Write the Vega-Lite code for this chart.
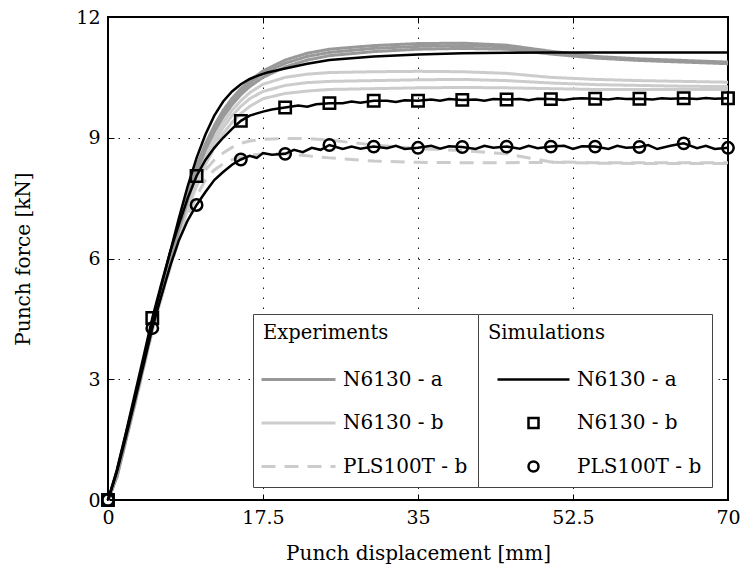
{
  "$schema": "https://vega.github.io/schema/vega-lite/v6.json",
  "width": 620,
  "height": 483,
  "autosize": {"type": "none"},
  "padding": {"left": 108, "top": 17, "right": 14, "bottom": 72},
  "config": {
    "font": "DejaVu Serif",
    "view": {"stroke": "black", "strokeWidth": 2},
    "axis": {
      "labelFont": "DejaVu Serif", "labelFontSize": 19, "labelColor": "black", "labelFlush": false,
      "titleFont": "DejaVu Serif", "titleFontSize": 20, "titleFontWeight": "normal", "titleColor": "black",
      "domain": false, "tickColor": "black", "tickSize": -6, "tickWidth": 1,
      "gridColor": "black", "gridDash": [1.5, 8.5], "gridOpacity": 0.9, "gridWidth": 1
    },
    "legend": {
      "labelFont": "DejaVu Serif", "labelFontSize": 20, "labelColor": "black",
      "titleFont": "DejaVu Serif", "titleFontSize": 19.5, "titleFontWeight": "normal", "titleColor": "black",
      "padding": 10, "fillColor": "white", "strokeColor": "#444444", "rowPadding": 23.5, "titlePadding": 26,
      "symbolSize": 100, "orient": "none"
    }
  },
  "datasets": {
    "exp": [
      {"exp":"PLS100T - b","run":"d1","x":0,"y":0},{"exp":"PLS100T - b","run":"d1","x":1,"y":0.58},{"exp":"PLS100T - b","run":"d1","x":2,"y":1.48},{"exp":"PLS100T - b","run":"d1","x":3,"y":2.38},{"exp":"PLS100T - b","run":"d1","x":4,"y":3.3},{"exp":"PLS100T - b","run":"d1","x":5,"y":4.25},{"exp":"PLS100T - b","run":"d1","x":6,"y":5.05},{"exp":"PLS100T - b","run":"d1","x":7,"y":5.85},{"exp":"PLS100T - b","run":"d1","x":8,"y":6.6},{"exp":"PLS100T - b","run":"d1","x":9,"y":7.25},{"exp":"PLS100T - b","run":"d1","x":10,"y":7.8},{"exp":"PLS100T - b","run":"d1","x":11,"y":8.2},{"exp":"PLS100T - b","run":"d1","x":12,"y":8.45},{"exp":"PLS100T - b","run":"d1","x":13,"y":8.62},{"exp":"PLS100T - b","run":"d1","x":14,"y":8.76},{"exp":"PLS100T - b","run":"d1","x":15,"y":8.86},{"exp":"PLS100T - b","run":"d1","x":16,"y":8.92},{"exp":"PLS100T - b","run":"d1","x":17.5,"y":8.96},{"exp":"PLS100T - b","run":"d1","x":20,"y":8.98},{"exp":"PLS100T - b","run":"d1","x":22.5,"y":8.98},{"exp":"PLS100T - b","run":"d1","x":25,"y":8.94},{"exp":"PLS100T - b","run":"d1","x":30,"y":8.82},{"exp":"PLS100T - b","run":"d1","x":35,"y":8.73},{"exp":"PLS100T - b","run":"d1","x":40,"y":8.68},{"exp":"PLS100T - b","run":"d1","x":45,"y":8.6},{"exp":"PLS100T - b","run":"d1","x":50,"y":8.4},{"exp":"PLS100T - b","run":"d1","x":55,"y":8.38},{"exp":"PLS100T - b","run":"d1","x":60,"y":8.38},{"exp":"PLS100T - b","run":"d1","x":65,"y":8.38},{"exp":"PLS100T - b","run":"d1","x":70,"y":8.38},
      {"exp":"PLS100T - b","run":"d2","x":0,"y":0},{"exp":"PLS100T - b","run":"d2","x":1,"y":0.55},{"exp":"PLS100T - b","run":"d2","x":2,"y":1.45},{"exp":"PLS100T - b","run":"d2","x":3,"y":2.33},{"exp":"PLS100T - b","run":"d2","x":4,"y":3.25},{"exp":"PLS100T - b","run":"d2","x":5,"y":4.2},{"exp":"PLS100T - b","run":"d2","x":6,"y":5.0},{"exp":"PLS100T - b","run":"d2","x":7,"y":5.75},{"exp":"PLS100T - b","run":"d2","x":8,"y":6.45},{"exp":"PLS100T - b","run":"d2","x":9,"y":7.05},{"exp":"PLS100T - b","run":"d2","x":10,"y":7.55},{"exp":"PLS100T - b","run":"d2","x":11,"y":7.95},{"exp":"PLS100T - b","run":"d2","x":12,"y":8.2},{"exp":"PLS100T - b","run":"d2","x":13,"y":8.35},{"exp":"PLS100T - b","run":"d2","x":14,"y":8.45},{"exp":"PLS100T - b","run":"d2","x":15,"y":8.52},{"exp":"PLS100T - b","run":"d2","x":16,"y":8.56},{"exp":"PLS100T - b","run":"d2","x":17.5,"y":8.6},{"exp":"PLS100T - b","run":"d2","x":20,"y":8.6},{"exp":"PLS100T - b","run":"d2","x":22.5,"y":8.55},{"exp":"PLS100T - b","run":"d2","x":25,"y":8.5},{"exp":"PLS100T - b","run":"d2","x":30,"y":8.42},{"exp":"PLS100T - b","run":"d2","x":35,"y":8.39},{"exp":"PLS100T - b","run":"d2","x":40,"y":8.38},{"exp":"PLS100T - b","run":"d2","x":45,"y":8.38},{"exp":"PLS100T - b","run":"d2","x":50,"y":8.39},{"exp":"PLS100T - b","run":"d2","x":55,"y":8.37},{"exp":"PLS100T - b","run":"d2","x":60,"y":8.36},{"exp":"PLS100T - b","run":"d2","x":65,"y":8.36},{"exp":"PLS100T - b","run":"d2","x":70,"y":8.36},
      {"exp":"N6130 - b","run":"b1","x":0,"y":0},{"exp":"N6130 - b","run":"b1","x":1,"y":0.6},{"exp":"N6130 - b","run":"b1","x":2,"y":1.5},{"exp":"N6130 - b","run":"b1","x":3,"y":2.4},{"exp":"N6130 - b","run":"b1","x":4,"y":3.33},{"exp":"N6130 - b","run":"b1","x":5,"y":4.3},{"exp":"N6130 - b","run":"b1","x":6,"y":5.1},{"exp":"N6130 - b","run":"b1","x":7,"y":5.9},{"exp":"N6130 - b","run":"b1","x":8,"y":6.65},{"exp":"N6130 - b","run":"b1","x":9,"y":7.35},{"exp":"N6130 - b","run":"b1","x":10,"y":8.0},{"exp":"N6130 - b","run":"b1","x":11,"y":8.55},{"exp":"N6130 - b","run":"b1","x":12,"y":9.0},{"exp":"N6130 - b","run":"b1","x":13,"y":9.38},{"exp":"N6130 - b","run":"b1","x":14,"y":9.68},{"exp":"N6130 - b","run":"b1","x":15,"y":9.92},{"exp":"N6130 - b","run":"b1","x":16,"y":10.12},{"exp":"N6130 - b","run":"b1","x":17.5,"y":10.33},{"exp":"N6130 - b","run":"b1","x":20,"y":10.5},{"exp":"N6130 - b","run":"b1","x":22.5,"y":10.58},{"exp":"N6130 - b","run":"b1","x":25,"y":10.62},{"exp":"N6130 - b","run":"b1","x":30,"y":10.64},{"exp":"N6130 - b","run":"b1","x":35,"y":10.65},{"exp":"N6130 - b","run":"b1","x":40,"y":10.64},{"exp":"N6130 - b","run":"b1","x":45,"y":10.6},{"exp":"N6130 - b","run":"b1","x":50,"y":10.5},{"exp":"N6130 - b","run":"b1","x":55,"y":10.45},{"exp":"N6130 - b","run":"b1","x":60,"y":10.42},{"exp":"N6130 - b","run":"b1","x":65,"y":10.4},{"exp":"N6130 - b","run":"b1","x":70,"y":10.38},
      {"exp":"N6130 - b","run":"b2","x":0,"y":0},{"exp":"N6130 - b","run":"b2","x":1,"y":0.58},{"exp":"N6130 - b","run":"b2","x":2,"y":1.48},{"exp":"N6130 - b","run":"b2","x":3,"y":2.37},{"exp":"N6130 - b","run":"b2","x":4,"y":3.3},{"exp":"N6130 - b","run":"b2","x":5,"y":4.25},{"exp":"N6130 - b","run":"b2","x":6,"y":5.05},{"exp":"N6130 - b","run":"b2","x":7,"y":5.85},{"exp":"N6130 - b","run":"b2","x":8,"y":6.6},{"exp":"N6130 - b","run":"b2","x":9,"y":7.3},{"exp":"N6130 - b","run":"b2","x":10,"y":7.92},{"exp":"N6130 - b","run":"b2","x":11,"y":8.45},{"exp":"N6130 - b","run":"b2","x":12,"y":8.88},{"exp":"N6130 - b","run":"b2","x":13,"y":9.25},{"exp":"N6130 - b","run":"b2","x":14,"y":9.55},{"exp":"N6130 - b","run":"b2","x":15,"y":9.78},{"exp":"N6130 - b","run":"b2","x":16,"y":9.97},{"exp":"N6130 - b","run":"b2","x":17.5,"y":10.15},{"exp":"N6130 - b","run":"b2","x":20,"y":10.3},{"exp":"N6130 - b","run":"b2","x":22.5,"y":10.37},{"exp":"N6130 - b","run":"b2","x":25,"y":10.4},{"exp":"N6130 - b","run":"b2","x":30,"y":10.42},{"exp":"N6130 - b","run":"b2","x":35,"y":10.44},{"exp":"N6130 - b","run":"b2","x":40,"y":10.45},{"exp":"N6130 - b","run":"b2","x":45,"y":10.42},{"exp":"N6130 - b","run":"b2","x":50,"y":10.36},{"exp":"N6130 - b","run":"b2","x":55,"y":10.32},{"exp":"N6130 - b","run":"b2","x":60,"y":10.3},{"exp":"N6130 - b","run":"b2","x":65,"y":10.28},{"exp":"N6130 - b","run":"b2","x":70,"y":10.27},
      {"exp":"N6130 - b","run":"b3","x":0,"y":0},{"exp":"N6130 - b","run":"b3","x":1,"y":0.56},{"exp":"N6130 - b","run":"b3","x":2,"y":1.45},{"exp":"N6130 - b","run":"b3","x":3,"y":2.35},{"exp":"N6130 - b","run":"b3","x":4,"y":3.27},{"exp":"N6130 - b","run":"b3","x":5,"y":4.2},{"exp":"N6130 - b","run":"b3","x":6,"y":5.0},{"exp":"N6130 - b","run":"b3","x":7,"y":5.8},{"exp":"N6130 - b","run":"b3","x":8,"y":6.55},{"exp":"N6130 - b","run":"b3","x":9,"y":7.22},{"exp":"N6130 - b","run":"b3","x":10,"y":7.82},{"exp":"N6130 - b","run":"b3","x":11,"y":8.33},{"exp":"N6130 - b","run":"b3","x":12,"y":8.75},{"exp":"N6130 - b","run":"b3","x":13,"y":9.1},{"exp":"N6130 - b","run":"b3","x":14,"y":9.38},{"exp":"N6130 - b","run":"b3","x":15,"y":9.6},{"exp":"N6130 - b","run":"b3","x":16,"y":9.78},{"exp":"N6130 - b","run":"b3","x":17.5,"y":9.97},{"exp":"N6130 - b","run":"b3","x":20,"y":10.1},{"exp":"N6130 - b","run":"b3","x":22.5,"y":10.16},{"exp":"N6130 - b","run":"b3","x":25,"y":10.2},{"exp":"N6130 - b","run":"b3","x":30,"y":10.22},{"exp":"N6130 - b","run":"b3","x":35,"y":10.24},{"exp":"N6130 - b","run":"b3","x":40,"y":10.25},{"exp":"N6130 - b","run":"b3","x":45,"y":10.24},{"exp":"N6130 - b","run":"b3","x":50,"y":10.22},{"exp":"N6130 - b","run":"b3","x":55,"y":10.2},{"exp":"N6130 - b","run":"b3","x":60,"y":10.2},{"exp":"N6130 - b","run":"b3","x":65,"y":10.2},{"exp":"N6130 - b","run":"b3","x":70,"y":10.2},
      {"exp":"N6130 - a","run":"a1","x":0,"y":0},{"exp":"N6130 - a","run":"a1","x":1,"y":0.62},{"exp":"N6130 - a","run":"a1","x":2,"y":1.52},{"exp":"N6130 - a","run":"a1","x":3,"y":2.42},{"exp":"N6130 - a","run":"a1","x":4,"y":3.38},{"exp":"N6130 - a","run":"a1","x":5,"y":4.35},{"exp":"N6130 - a","run":"a1","x":6,"y":5.2},{"exp":"N6130 - a","run":"a1","x":7,"y":6.05},{"exp":"N6130 - a","run":"a1","x":8,"y":6.85},{"exp":"N6130 - a","run":"a1","x":9,"y":7.6},{"exp":"N6130 - a","run":"a1","x":10,"y":8.3},{"exp":"N6130 - a","run":"a1","x":11,"y":8.85},{"exp":"N6130 - a","run":"a1","x":12,"y":9.3},{"exp":"N6130 - a","run":"a1","x":13,"y":9.68},{"exp":"N6130 - a","run":"a1","x":14,"y":9.98},{"exp":"N6130 - a","run":"a1","x":15,"y":10.22},{"exp":"N6130 - a","run":"a1","x":16,"y":10.42},{"exp":"N6130 - a","run":"a1","x":17.5,"y":10.66},{"exp":"N6130 - a","run":"a1","x":20,"y":10.93},{"exp":"N6130 - a","run":"a1","x":22.5,"y":11.1},{"exp":"N6130 - a","run":"a1","x":25,"y":11.2},{"exp":"N6130 - a","run":"a1","x":30,"y":11.29},{"exp":"N6130 - a","run":"a1","x":35,"y":11.34},{"exp":"N6130 - a","run":"a1","x":40,"y":11.35},{"exp":"N6130 - a","run":"a1","x":45,"y":11.3},{"exp":"N6130 - a","run":"a1","x":50,"y":11.15},{"exp":"N6130 - a","run":"a1","x":55,"y":11.02},{"exp":"N6130 - a","run":"a1","x":60,"y":10.96},{"exp":"N6130 - a","run":"a1","x":65,"y":10.92},{"exp":"N6130 - a","run":"a1","x":70,"y":10.88},
      {"exp":"N6130 - a","run":"a2","x":0,"y":0},{"exp":"N6130 - a","run":"a2","x":1,"y":0.6},{"exp":"N6130 - a","run":"a2","x":2,"y":1.5},{"exp":"N6130 - a","run":"a2","x":3,"y":2.4},{"exp":"N6130 - a","run":"a2","x":4,"y":3.35},{"exp":"N6130 - a","run":"a2","x":5,"y":4.3},{"exp":"N6130 - a","run":"a2","x":6,"y":5.15},{"exp":"N6130 - a","run":"a2","x":7,"y":6.0},{"exp":"N6130 - a","run":"a2","x":8,"y":6.8},{"exp":"N6130 - a","run":"a2","x":9,"y":7.55},{"exp":"N6130 - a","run":"a2","x":10,"y":8.25},{"exp":"N6130 - a","run":"a2","x":11,"y":8.8},{"exp":"N6130 - a","run":"a2","x":12,"y":9.25},{"exp":"N6130 - a","run":"a2","x":13,"y":9.62},{"exp":"N6130 - a","run":"a2","x":14,"y":9.92},{"exp":"N6130 - a","run":"a2","x":15,"y":10.15},{"exp":"N6130 - a","run":"a2","x":16,"y":10.35},{"exp":"N6130 - a","run":"a2","x":17.5,"y":10.6},{"exp":"N6130 - a","run":"a2","x":20,"y":10.85},{"exp":"N6130 - a","run":"a2","x":22.5,"y":11.02},{"exp":"N6130 - a","run":"a2","x":25,"y":11.12},{"exp":"N6130 - a","run":"a2","x":30,"y":11.22},{"exp":"N6130 - a","run":"a2","x":35,"y":11.27},{"exp":"N6130 - a","run":"a2","x":40,"y":11.29},{"exp":"N6130 - a","run":"a2","x":45,"y":11.26},{"exp":"N6130 - a","run":"a2","x":50,"y":11.12},{"exp":"N6130 - a","run":"a2","x":55,"y":11.0},{"exp":"N6130 - a","run":"a2","x":60,"y":10.94},{"exp":"N6130 - a","run":"a2","x":65,"y":10.9},{"exp":"N6130 - a","run":"a2","x":70,"y":10.86},
      {"exp":"N6130 - a","run":"a3","x":0,"y":0},{"exp":"N6130 - a","run":"a3","x":1,"y":0.58},{"exp":"N6130 - a","run":"a3","x":2,"y":1.48},{"exp":"N6130 - a","run":"a3","x":3,"y":2.38},{"exp":"N6130 - a","run":"a3","x":4,"y":3.32},{"exp":"N6130 - a","run":"a3","x":5,"y":4.3},{"exp":"N6130 - a","run":"a3","x":6,"y":5.1},{"exp":"N6130 - a","run":"a3","x":7,"y":5.95},{"exp":"N6130 - a","run":"a3","x":8,"y":6.7},{"exp":"N6130 - a","run":"a3","x":9,"y":7.45},{"exp":"N6130 - a","run":"a3","x":10,"y":8.15},{"exp":"N6130 - a","run":"a3","x":11,"y":8.7},{"exp":"N6130 - a","run":"a3","x":12,"y":9.15},{"exp":"N6130 - a","run":"a3","x":13,"y":9.52},{"exp":"N6130 - a","run":"a3","x":14,"y":9.82},{"exp":"N6130 - a","run":"a3","x":15,"y":10.07},{"exp":"N6130 - a","run":"a3","x":16,"y":10.27},{"exp":"N6130 - a","run":"a3","x":17.5,"y":10.5},{"exp":"N6130 - a","run":"a3","x":20,"y":10.76},{"exp":"N6130 - a","run":"a3","x":22.5,"y":10.93},{"exp":"N6130 - a","run":"a3","x":25,"y":11.04},{"exp":"N6130 - a","run":"a3","x":30,"y":11.14},{"exp":"N6130 - a","run":"a3","x":35,"y":11.2},{"exp":"N6130 - a","run":"a3","x":40,"y":11.22},{"exp":"N6130 - a","run":"a3","x":45,"y":11.2},{"exp":"N6130 - a","run":"a3","x":50,"y":11.08},{"exp":"N6130 - a","run":"a3","x":55,"y":10.98},{"exp":"N6130 - a","run":"a3","x":60,"y":10.92},{"exp":"N6130 - a","run":"a3","x":65,"y":10.88},{"exp":"N6130 - a","run":"a3","x":70,"y":10.84}
    ],
    "sim": [
      {"sim":"S N6130 - a","x":0,"y":0},{"sim":"S N6130 - a","x":1,"y":0.72},{"sim":"S N6130 - a","x":2,"y":1.62},{"sim":"S N6130 - a","x":3,"y":2.52},{"sim":"S N6130 - a","x":4,"y":3.45},{"sim":"S N6130 - a","x":5,"y":4.4},{"sim":"S N6130 - a","x":6,"y":5.3},{"sim":"S N6130 - a","x":7,"y":6.15},{"sim":"S N6130 - a","x":8,"y":7.0},{"sim":"S N6130 - a","x":9,"y":7.8},{"sim":"S N6130 - a","x":10,"y":8.5},{"sim":"S N6130 - a","x":11,"y":9.08},{"sim":"S N6130 - a","x":12,"y":9.55},{"sim":"S N6130 - a","x":13,"y":9.9},{"sim":"S N6130 - a","x":14,"y":10.15},{"sim":"S N6130 - a","x":15,"y":10.33},{"sim":"S N6130 - a","x":16,"y":10.46},{"sim":"S N6130 - a","x":17,"y":10.55},{"sim":"S N6130 - a","x":18,"y":10.62},{"sim":"S N6130 - a","x":20,"y":10.72},{"sim":"S N6130 - a","x":22.5,"y":10.84},{"sim":"S N6130 - a","x":25,"y":10.93},{"sim":"S N6130 - a","x":30,"y":11.02},{"sim":"S N6130 - a","x":35,"y":11.07},{"sim":"S N6130 - a","x":40,"y":11.1},{"sim":"S N6130 - a","x":45,"y":11.11},{"sim":"S N6130 - a","x":50,"y":11.12},{"sim":"S N6130 - a","x":60,"y":11.12},{"sim":"S N6130 - a","x":70,"y":11.12},
      {"sim":"S N6130 - b","x":0,"y":0},{"sim":"S N6130 - b","x":1,"y":0.75},{"sim":"S N6130 - b","x":2,"y":1.65},{"sim":"S N6130 - b","x":3,"y":2.6},{"sim":"S N6130 - b","x":4,"y":3.55},{"sim":"S N6130 - b","x":5,"y":4.52},{"sim":"S N6130 - b","x":6,"y":5.35},{"sim":"S N6130 - b","x":7,"y":6.15},{"sim":"S N6130 - b","x":8,"y":6.85},{"sim":"S N6130 - b","x":9,"y":7.5},{"sim":"S N6130 - b","x":10,"y":8.05},{"sim":"S N6130 - b","x":11,"y":8.45},{"sim":"S N6130 - b","x":12,"y":8.75},{"sim":"S N6130 - b","x":13,"y":9.0},{"sim":"S N6130 - b","x":14,"y":9.22},{"sim":"S N6130 - b","x":15,"y":9.42},{"sim":"S N6130 - b","x":16,"y":9.55},{"sim":"S N6130 - b","x":17.5,"y":9.65},{"sim":"S N6130 - b","x":18.5,"y":9.7},{"sim":"S N6130 - b","x":20,"y":9.75},{"sim":"S N6130 - b","x":21.5,"y":9.8},{"sim":"S N6130 - b","x":22.5,"y":9.77},{"sim":"S N6130 - b","x":23.5,"y":9.83},{"sim":"S N6130 - b","x":25,"y":9.86},{"sim":"S N6130 - b","x":26.5,"y":9.86},{"sim":"S N6130 - b","x":27.5,"y":9.9},{"sim":"S N6130 - b","x":28.5,"y":9.87},{"sim":"S N6130 - b","x":30,"y":9.92},{"sim":"S N6130 - b","x":31.5,"y":9.92},{"sim":"S N6130 - b","x":32.5,"y":9.89},{"sim":"S N6130 - b","x":33.5,"y":9.93},{"sim":"S N6130 - b","x":35,"y":9.92},{"sim":"S N6130 - b","x":36.5,"y":9.95},{"sim":"S N6130 - b","x":37.5,"y":9.92},{"sim":"S N6130 - b","x":38.5,"y":9.96},{"sim":"S N6130 - b","x":40,"y":9.94},{"sim":"S N6130 - b","x":41.5,"y":9.95},{"sim":"S N6130 - b","x":42.5,"y":9.92},{"sim":"S N6130 - b","x":43.5,"y":9.96},{"sim":"S N6130 - b","x":45,"y":9.95},{"sim":"S N6130 - b","x":46.5,"y":9.96},{"sim":"S N6130 - b","x":47.5,"y":9.93},{"sim":"S N6130 - b","x":48.5,"y":9.97},{"sim":"S N6130 - b","x":50,"y":9.96},{"sim":"S N6130 - b","x":51.5,"y":9.94},{"sim":"S N6130 - b","x":52.5,"y":9.97},{"sim":"S N6130 - b","x":53.5,"y":9.98},{"sim":"S N6130 - b","x":55,"y":9.97},{"sim":"S N6130 - b","x":56.5,"y":9.95},{"sim":"S N6130 - b","x":57.5,"y":9.98},{"sim":"S N6130 - b","x":58.5,"y":9.96},{"sim":"S N6130 - b","x":60,"y":9.97},{"sim":"S N6130 - b","x":61.5,"y":9.95},{"sim":"S N6130 - b","x":62.5,"y":9.98},{"sim":"S N6130 - b","x":63.5,"y":9.97},{"sim":"S N6130 - b","x":65,"y":9.98},{"sim":"S N6130 - b","x":66.5,"y":9.96},{"sim":"S N6130 - b","x":67.5,"y":9.99},{"sim":"S N6130 - b","x":68.5,"y":9.97},{"sim":"S N6130 - b","x":70,"y":9.98},
      {"sim":"S PLS100T - b","x":0,"y":0},{"sim":"S PLS100T - b","x":1,"y":0.7},{"sim":"S PLS100T - b","x":2,"y":1.55},{"sim":"S PLS100T - b","x":3,"y":2.45},{"sim":"S PLS100T - b","x":4,"y":3.35},{"sim":"S PLS100T - b","x":5,"y":4.27},{"sim":"S PLS100T - b","x":6,"y":5.05},{"sim":"S PLS100T - b","x":7,"y":5.8},{"sim":"S PLS100T - b","x":8,"y":6.45},{"sim":"S PLS100T - b","x":9,"y":6.95},{"sim":"S PLS100T - b","x":10,"y":7.33},{"sim":"S PLS100T - b","x":11,"y":7.65},{"sim":"S PLS100T - b","x":12,"y":7.95},{"sim":"S PLS100T - b","x":13,"y":8.15},{"sim":"S PLS100T - b","x":14,"y":8.33},{"sim":"S PLS100T - b","x":15,"y":8.46},{"sim":"S PLS100T - b","x":16,"y":8.55},{"sim":"S PLS100T - b","x":16.8,"y":8.5},{"sim":"S PLS100T - b","x":17.5,"y":8.62},{"sim":"S PLS100T - b","x":18.5,"y":8.58},{"sim":"S PLS100T - b","x":20,"y":8.6},{"sim":"S PLS100T - b","x":21,"y":8.7},{"sim":"S PLS100T - b","x":22,"y":8.64},{"sim":"S PLS100T - b","x":23,"y":8.75},{"sim":"S PLS100T - b","x":24,"y":8.7},{"sim":"S PLS100T - b","x":25,"y":8.82},{"sim":"S PLS100T - b","x":26.5,"y":8.72},{"sim":"S PLS100T - b","x":27.5,"y":8.78},{"sim":"S PLS100T - b","x":28.5,"y":8.73},{"sim":"S PLS100T - b","x":30,"y":8.78},{"sim":"S PLS100T - b","x":31.5,"y":8.74},{"sim":"S PLS100T - b","x":32.5,"y":8.8},{"sim":"S PLS100T - b","x":33.5,"y":8.72},{"sim":"S PLS100T - b","x":35,"y":8.75},{"sim":"S PLS100T - b","x":36.5,"y":8.8},{"sim":"S PLS100T - b","x":37.5,"y":8.73},{"sim":"S PLS100T - b","x":38.5,"y":8.79},{"sim":"S PLS100T - b","x":40,"y":8.77},{"sim":"S PLS100T - b","x":41.5,"y":8.72},{"sim":"S PLS100T - b","x":42.5,"y":8.8},{"sim":"S PLS100T - b","x":43.5,"y":8.75},{"sim":"S PLS100T - b","x":45,"y":8.78},{"sim":"S PLS100T - b","x":46.5,"y":8.73},{"sim":"S PLS100T - b","x":47.5,"y":8.8},{"sim":"S PLS100T - b","x":48.5,"y":8.74},{"sim":"S PLS100T - b","x":50,"y":8.78},{"sim":"S PLS100T - b","x":51.5,"y":8.8},{"sim":"S PLS100T - b","x":52.5,"y":8.72},{"sim":"S PLS100T - b","x":53.5,"y":8.79},{"sim":"S PLS100T - b","x":55,"y":8.78},{"sim":"S PLS100T - b","x":56.5,"y":8.72},{"sim":"S PLS100T - b","x":57.5,"y":8.8},{"sim":"S PLS100T - b","x":58.5,"y":8.75},{"sim":"S PLS100T - b","x":60,"y":8.77},{"sim":"S PLS100T - b","x":61,"y":8.82},{"sim":"S PLS100T - b","x":62,"y":8.72},{"sim":"S PLS100T - b","x":63.5,"y":8.8},{"sim":"S PLS100T - b","x":65,"y":8.86},{"sim":"S PLS100T - b","x":66.5,"y":8.74},{"sim":"S PLS100T - b","x":67.5,"y":8.8},{"sim":"S PLS100T - b","x":68.5,"y":8.72},{"sim":"S PLS100T - b","x":70,"y":8.75}
    ]
  },
  "layer": [
    {
      "data": {"name": "exp"},
      "mark": {"type": "line", "strokeWidth": 3},
      "encoding": {
        "x": {"field": "x", "type": "quantitative", "scale": {"domain": [0, 70], "nice": false},
              "axis": {"orient": "bottom", "values": [0, 17.5, 35, 52.5, 70], "labelExpr": "'' + datum.value", "title": "Punch displacement [mm]", "labelPadding": 14, "titlePadding": 16, "grid": true}},
        "y": {"field": "y", "type": "quantitative", "scale": {"domain": [0, 12], "nice": false},
              "axis": {"orient": "left", "values": [0, 3, 6, 9, 12], "title": "Punch force [kN]", "labelPadding": 14, "titlePadding": 42, "grid": true}},
        "color": {"field": "exp", "type": "nominal",
                  "scale": {"domain": ["N6130 - a", "N6130 - b", "PLS100T - b"], "range": ["#999999", "#cccccc", "#cccccc"]},
                  "legend": {"title": "Experiments", "legendX": 145, "legendY": 297, "symbolType": "M-7.4,0H7.4", "symbolStrokeWidth": 3, "symbolOffset": 25.5, "labelOffset": 34.5}},
        "strokeDash": {"field": "exp", "type": "nominal",
                       "scale": {"domain": ["N6130 - a", "N6130 - b", "PLS100T - b"], "range": [[1, 0], [1, 0], [14, 9]]}},
        "detail": {"field": "run"}
      }
    },
    {
      "data": {"name": "sim"},
      "mark": {"type": "line", "color": "black", "strokeWidth": 2.5},
      "encoding": {
        "x": {"field": "x", "type": "quantitative", "axis": {"orient": "top", "values": [0, 17.5, 35, 52.5, 70], "labels": false, "grid": false, "title": null}},
        "y": {"field": "y", "type": "quantitative", "axis": {"orient": "right", "values": [0, 3, 6, 9, 12], "labels": false, "grid": false, "title": null}},
        "detail": {"field": "sim"}
      }
    },
    {
      "data": {"name": "sim"},
      "transform": [{"filter": "datum.sim !== 'S N6130 - a' && datum.x % 5 === 0"}],
      "mark": {"type": "point", "filled": false, "color": "black", "strokeWidth": 2.5, "size": 130, "opacity": 1},
      "encoding": {
        "x": {"field": "x", "type": "quantitative", "axis": null},
        "y": {"field": "y", "type": "quantitative", "axis": null},
        "shape": {"field": "sim", "type": "nominal",
                  "scale": {"domain": ["S N6130 - a", "S N6130 - b", "S PLS100T - b"], "range": ["M-7.2,0H7.2", "square", "circle"]},
                  "legend": {"title": "Simulations", "legendX": 370, "legendY": 297, "symbolStrokeWidth": 2.5, "symbolOffset": 35.5, "labelOffset": 33.5, "labelExpr": "slice(datum.label, 2)"}}
      }
    }
  ],
  "resolve": {"axis": {"x": "independent", "y": "independent"}}
}
